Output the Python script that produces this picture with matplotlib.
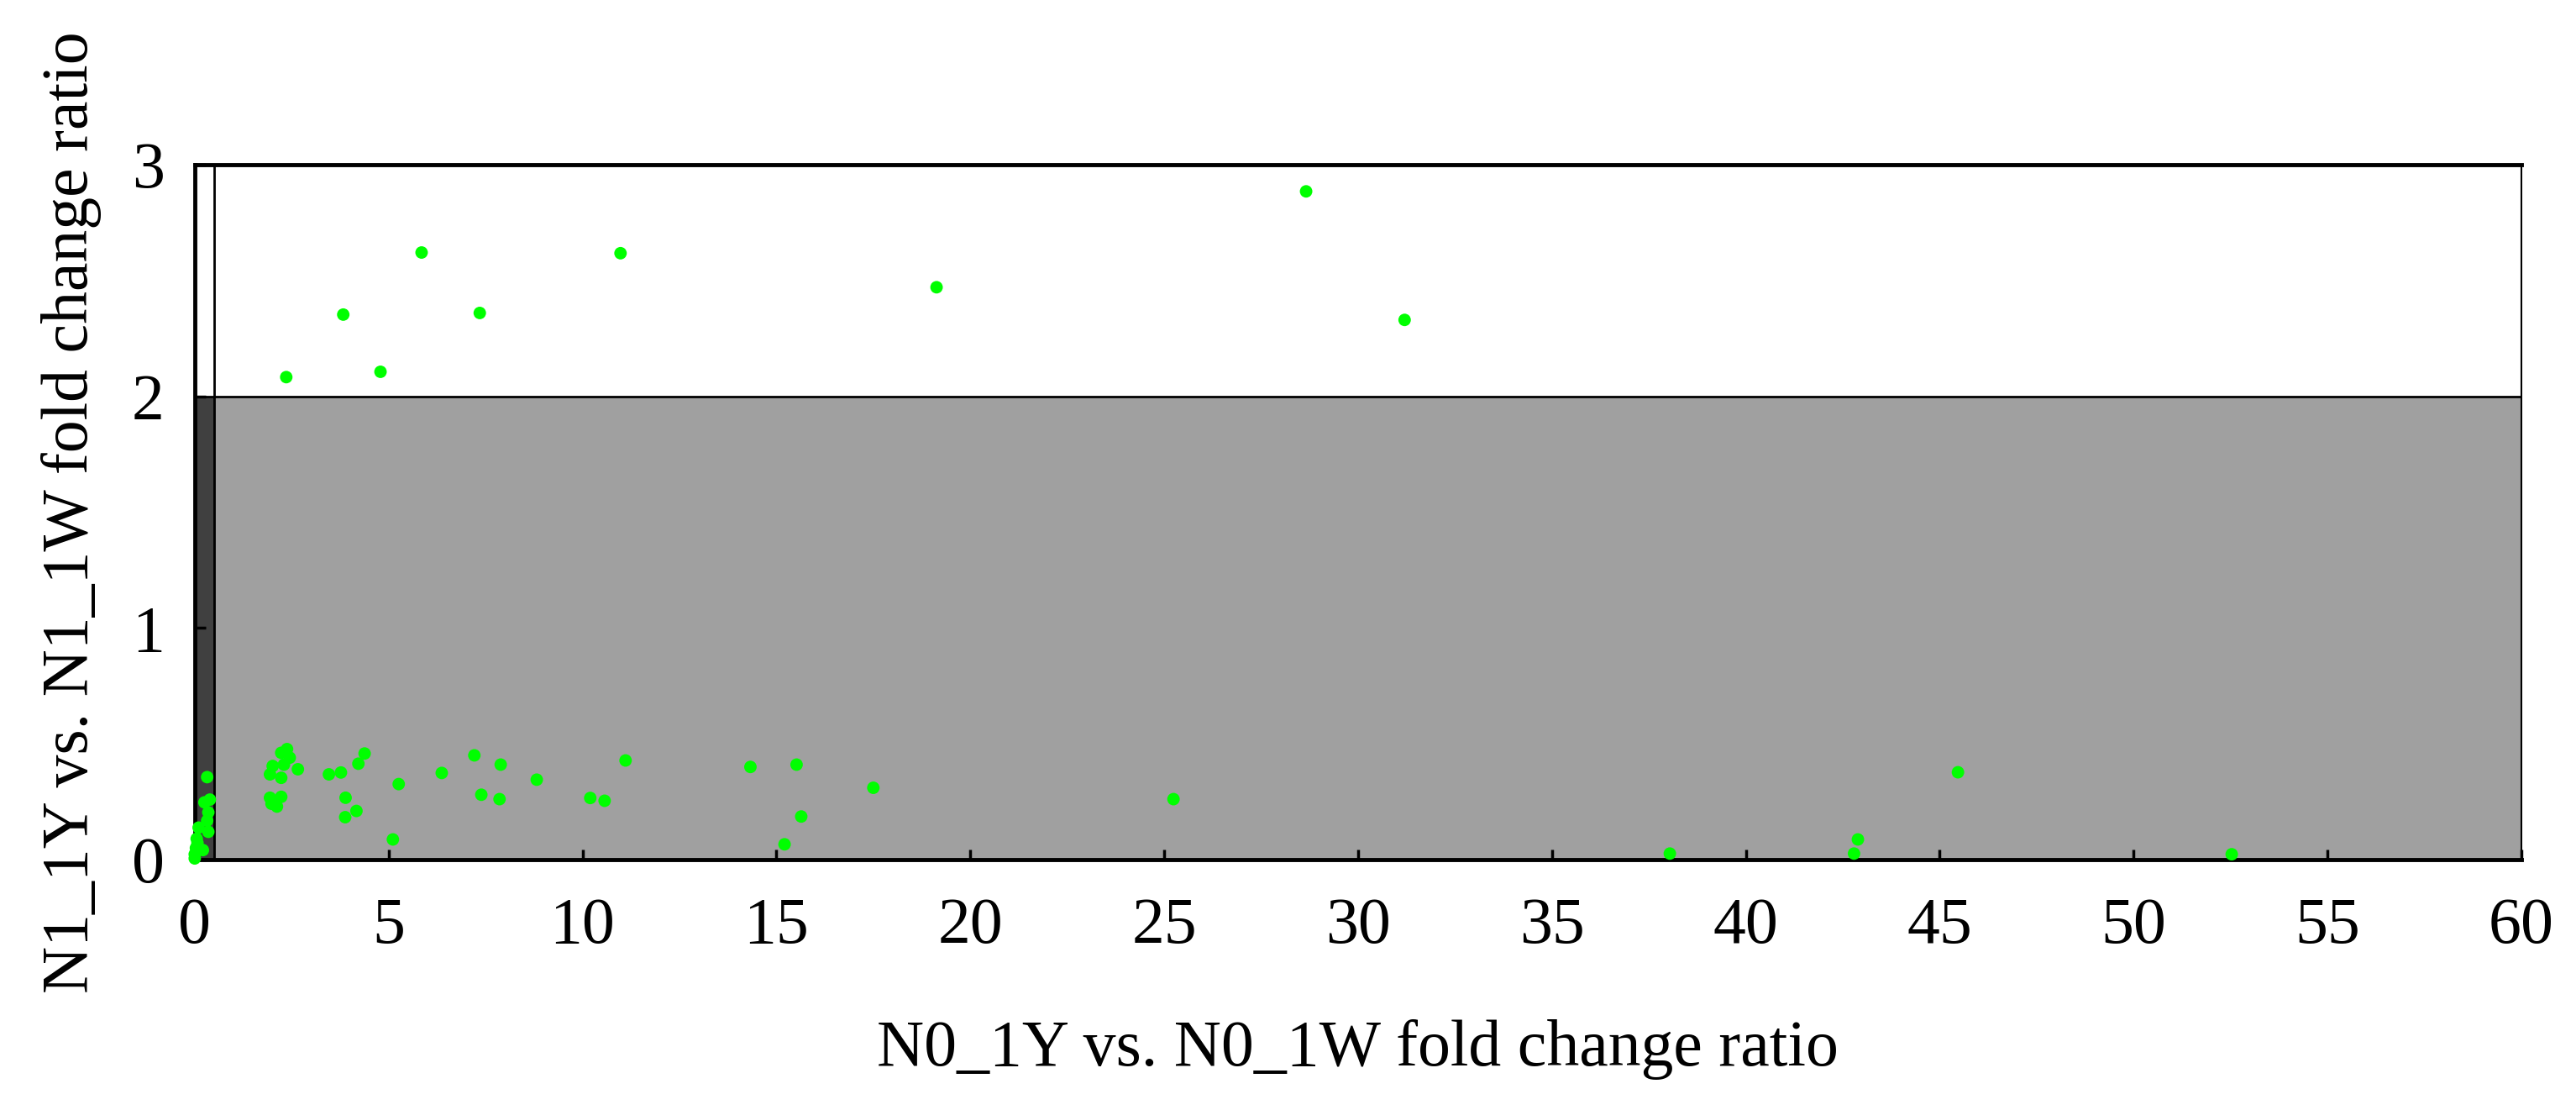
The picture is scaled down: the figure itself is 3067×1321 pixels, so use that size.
import matplotlib.pyplot as plt
from matplotlib.patches import Rectangle

# N0_1Y vs. N0_1W (x) and N1_1Y vs. N1_1W (y) fold change ratios
x_vals = [28.66, 5.85, 10.98, 19.13, 3.83, 7.35, 31.2, 2.36, 4.79,
          0.32, 0.25, 0.39, 0.35, 0.32, 0.10, 0.35, 0.07, 0.21, 0.0, 0.0, 0.03, 0.05,
          2.38, 2.23, 2.45, 2.30, 2.01, 1.94, 2.23, 2.66, 1.94, 2.23, 1.98, 2.12,
          3.46, 3.77, 4.22, 4.38, 3.89, 4.17, 3.88, 5.26, 5.11,
          6.37, 7.21, 7.89, 7.39, 7.86, 8.82, 11.11, 10.2, 10.57,
          14.33, 15.52, 15.64, 15.21, 17.5, 25.24,
          38.04, 42.89, 42.79, 45.47, 52.53]
y_vals = [2.885, 2.621, 2.618, 2.471, 2.353, 2.360, 2.330, 2.083, 2.106,
          0.356, 0.247, 0.259, 0.204, 0.168, 0.138, 0.12, 0.072, 0.041, 0.023, 0.005, 0.05, 0.09,
          0.477, 0.461, 0.44, 0.41, 0.404, 0.368, 0.353, 0.39, 0.267, 0.271, 0.241, 0.229,
          0.368, 0.376, 0.414, 0.458, 0.267, 0.21, 0.183, 0.326, 0.087,
          0.374, 0.45, 0.41, 0.28, 0.261, 0.345, 0.428, 0.266, 0.254,
          0.40, 0.41, 0.186, 0.066, 0.31, 0.261,
          0.026, 0.087, 0.026, 0.377, 0.023]

# cut-off thresholds for the shaded regions
x_cut = 0.5
y_cut = 2.0
x_max = 60
y_max = 3

x_ticks = list(range(0, 61, 5))
y_ticks = [0, 1, 2, 3]

plt.rcParams['font.family'] = ['Liberation Serif', 'DejaVu Serif']

fig = plt.figure(figsize=(30.67, 13.21), dpi=100)
ax = fig.add_axes([0.0756, 0.2256, 0.9032, 0.626])

ax.add_patch(Rectangle((0, 0), x_cut, y_cut, facecolor='#404040', edgecolor='black', lw=2, zorder=1))
ax.add_patch(Rectangle((x_cut, 0), x_max - x_cut, y_cut, facecolor='#A0A0A0', edgecolor='black', lw=2, zorder=1))
ax.plot([x_cut, x_cut], [y_cut, y_max], color='black', lw=2, zorder=2)

ax.scatter(x_vals, y_vals, s=115, color='#00FF00', edgecolors='none', zorder=3, clip_on=False)

ax.set_xlim(0, x_max)
ax.set_ylim(0, y_max)
ax.set_xticks(x_ticks)
ax.set_yticks(y_ticks)
ax.tick_params(axis='both', direction='in', length=9, width=2.5, labelsize=56)
ax.tick_params(axis='x', pad=32)
ax.tick_params(axis='y', pad=26)

for side in ['top', 'bottom', 'left']:
    ax.spines[side].set_linewidth(3.5)
ax.spines['right'].set_linewidth(1.5)

ax.set_xlabel('N0_1Y vs. N0_1W fold change ratio', fontsize=56)
ax.set_ylabel('N1_1Y vs. N1_1W fold change ratio', fontsize=56)
ax.xaxis.set_label_coords(0.5, -0.23)
ax.yaxis.set_label_coords(-0.04, 0.5)

fig.savefig('out.png', dpi=100)
